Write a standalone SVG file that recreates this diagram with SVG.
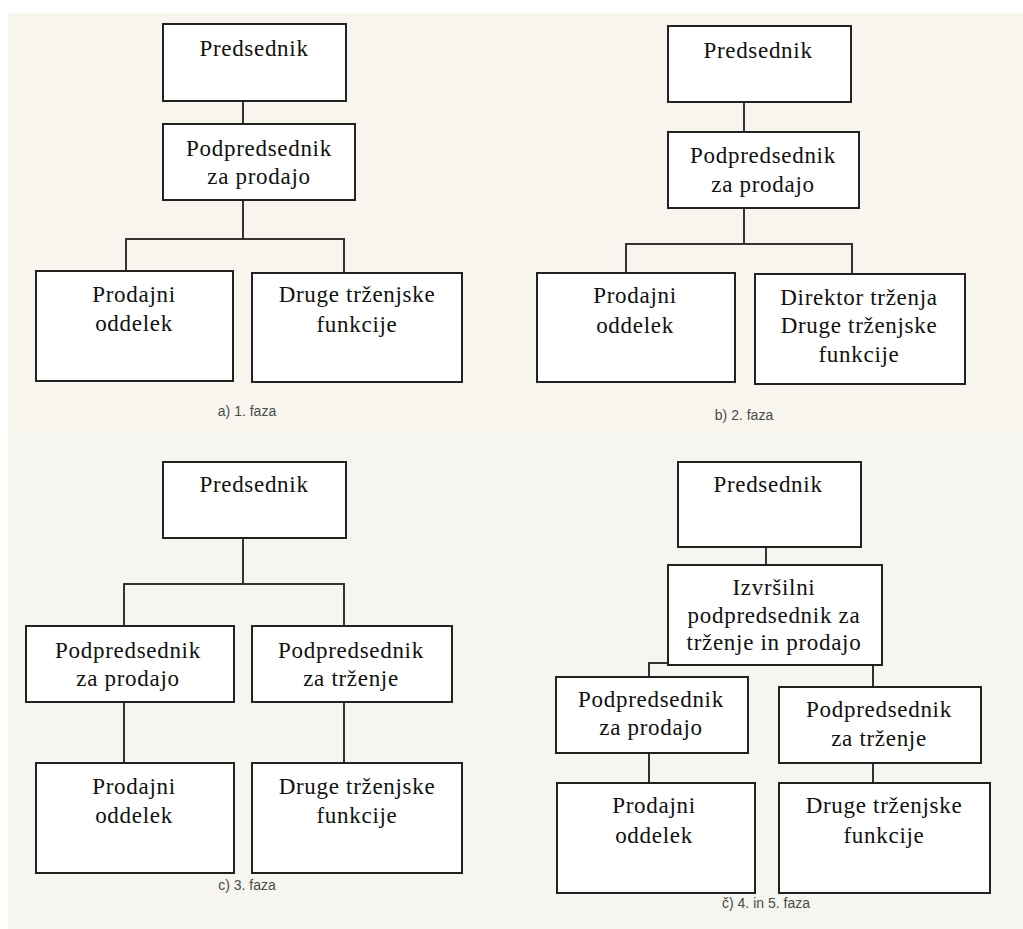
<svg xmlns="http://www.w3.org/2000/svg" width="1023" height="929" viewBox="0 0 1023 929">
<style>
.box{fill:#fff;stroke:#222;stroke-width:2}
.ln{fill:none;stroke:#333;stroke-width:2}
.t{font-family:"Liberation Serif","Times New Roman",serif;font-size:23px;letter-spacing:0.7px;fill:#111;text-anchor:middle}
.cap{font-family:"Liberation Sans",Arial,sans-serif;font-size:14px;fill:#4a4a4a;text-anchor:middle}
</style>
<rect x="0" y="0" width="1023" height="929" fill="#ffffff"/>
<rect x="8" y="13" width="1015" height="420" fill="#f7f5ee"/>
<rect x="8" y="433" width="1015" height="496" fill="#f6f5f0"/>

<g id="connectors">
<path class="ln" d="M243,101V124"/>
<path class="ln" d="M243,200V239M126,271V239H344V273"/>
<path class="ln" d="M744,102V132"/>
<path class="ln" d="M744,208V244M626,273V244H852V274"/>
<path class="ln" d="M243,538V584M124,626V584H344V626"/>
<path class="ln" d="M124,702V763"/>
<path class="ln" d="M344,702V763"/>
<path class="ln" d="M766,547V565"/>
<path class="ln" d="M668,663H649V677"/>
<path class="ln" d="M873,665V687"/>
<path class="ln" d="M649,753V783"/>
<path class="ln" d="M873,763V783"/>
</g>

<g id="a-predsednik"><rect class="box" x="163" y="24" width="183" height="77"/><text class="t" x="254" y="56">Predsednik</text></g>
<g id="a-podpredsednik"><rect class="box" x="163" y="124" width="192" height="76"/><text class="t" x="259" y="156">Podpredsednik</text><text class="t" x="259" y="184">za prodajo</text></g>
<g id="a-prodajni"><rect class="box" x="36" y="271" width="197" height="110"/><text class="t" x="134" y="302">Prodajni</text><text class="t" x="134" y="331">oddelek</text></g>
<g id="a-druge"><rect class="box" x="252" y="273" width="210" height="109"/><text class="t" x="357" y="302">Druge trženjske</text><text class="t" x="357" y="332">funkcije</text></g>
<text class="cap" x="247" y="416">a) 1. faza</text>

<g id="b-predsednik"><rect class="box" x="668" y="26" width="183" height="76"/><text class="t" x="758" y="58">Predsednik</text></g>
<g id="b-podpredsednik"><rect class="box" x="668" y="132" width="191" height="76"/><text class="t" x="763" y="163">Podpredsednik</text><text class="t" x="763" y="192">za prodajo</text></g>
<g id="b-prodajni"><rect class="box" x="537" y="273" width="198" height="109"/><text class="t" x="635" y="303">Prodajni</text><text class="t" x="635" y="333">oddelek</text></g>
<g id="b-direktor"><rect class="box" x="755" y="274" width="210" height="110"/><text class="t" x="859" y="305">Direktor trženja</text><text class="t" x="859" y="333">Druge trženjske</text><text class="t" x="859" y="362">funkcije</text></g>
<text class="cap" x="744" y="420">b) 2. faza</text>

<g id="c-predsednik"><rect class="box" x="163" y="462" width="183" height="76"/><text class="t" x="254" y="492">Predsednik</text></g>
<g id="c-pp-prodaja"><rect class="box" x="26" y="626" width="208" height="76"/><text class="t" x="128" y="658">Podpredsednik</text><text class="t" x="128" y="686">za prodajo</text></g>
<g id="c-pp-trzenje"><rect class="box" x="252" y="626" width="200" height="76"/><text class="t" x="351" y="658">Podpredsednik</text><text class="t" x="351" y="686">za trženje</text></g>
<g id="c-prodajni"><rect class="box" x="36" y="763" width="198" height="110"/><text class="t" x="134" y="794">Prodajni</text><text class="t" x="134" y="823">oddelek</text></g>
<g id="c-druge"><rect class="box" x="252" y="763" width="210" height="110"/><text class="t" x="357" y="794">Druge trženjske</text><text class="t" x="357" y="823">funkcije</text></g>
<text class="cap" x="247" y="890">c) 3. faza</text>

<g id="d-predsednik"><rect class="box" x="678" y="462" width="183" height="85"/><text class="t" x="768" y="492">Predsednik</text></g>
<g id="d-izvrsilni"><rect class="box" x="668" y="565" width="214" height="100"/><text class="t" x="774" y="595">Izvršilni</text><text class="t" x="774" y="623">podpredsednik za</text><text class="t" x="774" y="650">trženje in prodajo</text></g>
<g id="d-pp-prodaja"><rect class="box" x="556" y="677" width="192" height="76"/><text class="t" x="651" y="707">Podpredsednik</text><text class="t" x="651" y="735">za prodajo</text></g>
<g id="d-pp-trzenje"><rect class="box" x="779" y="687" width="202" height="76"/><text class="t" x="879" y="717">Podpredsednik</text><text class="t" x="879" y="746">za trženje</text></g>
<g id="d-prodajni"><rect class="box" x="557" y="783" width="198" height="110"/><text class="t" x="654" y="813">Prodajni</text><text class="t" x="654" y="843">oddelek</text></g>
<g id="d-druge"><rect class="box" x="779" y="783" width="211" height="110"/><text class="t" x="884" y="813">Druge trženjske</text><text class="t" x="884" y="843">funkcije</text></g>
<text class="cap" x="766" y="908">č) 4. in 5. faza</text>
</svg>
